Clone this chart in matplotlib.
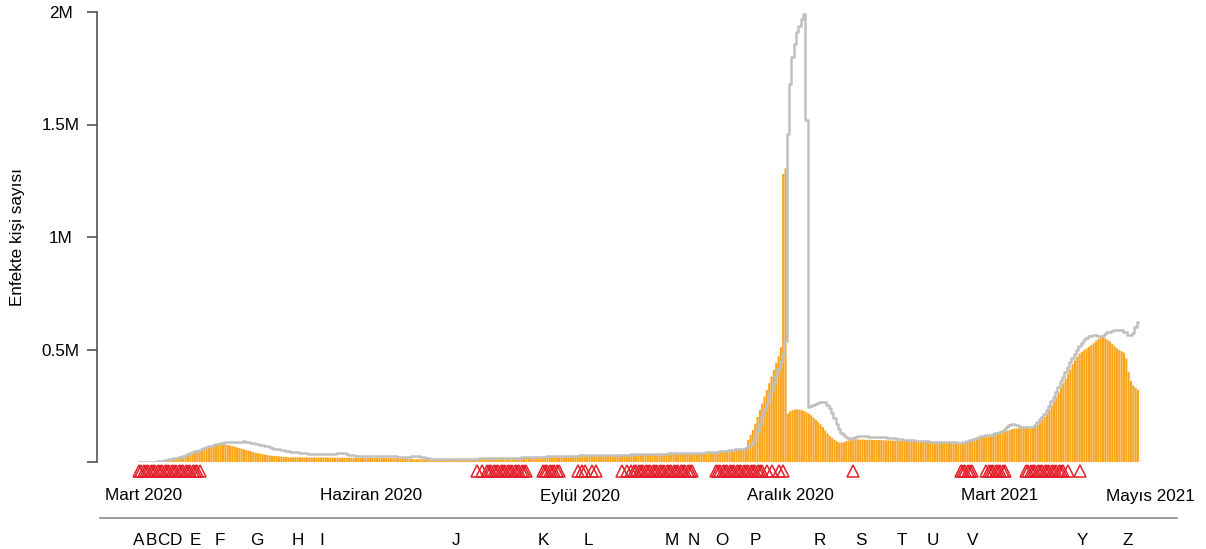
import numpy as np
import matplotlib
matplotlib.use("Agg")
import matplotlib.pyplot as plt
import matplotlib.transforms as mtransforms
from matplotlib.lines import Line2D

# infected persons per day (thousands), day 0 = first day of the series
orange = [
    0.5, 0.5, 1, 1, 1, 1.5, 2, 2, 3, 3,
    4, 6, 8, 10, 12, 14, 16, 18, 21, 24,
    28, 32, 36, 40, 44, 47, 51, 55, 59, 63,
    67, 70, 73, 75, 77, 78, 79, 78, 76, 74,
    71, 68, 65, 62, 59, 56, 53, 50, 47, 44,
    41, 39, 37, 35, 33, 31, 29, 28, 27, 26,
    25, 24, 23, 22, 21, 21, 21, 21, 21, 21,
    21, 21, 20, 20, 20, 20, 20, 20, 20, 20,
    20, 20, 20, 20, 19, 19, 19, 19, 19, 19,
    19, 19, 19, 19, 19, 19, 18, 18, 18, 18,
    18, 18, 18, 18, 18, 18, 18, 17, 17, 17,
    17, 17, 17, 16, 15, 14, 13, 13, 12, 12,
    12, 12, 12, 12, 13, 13, 13, 13, 13, 13,
    13, 13, 13, 13, 13, 13, 13, 13, 13, 14,
    14, 14, 14, 14, 14, 14, 15, 15, 15, 15,
    15, 16, 16, 16, 16, 17, 17, 17, 18, 18,
    18, 19, 19, 19, 20, 20, 21, 21, 21, 22,
    22, 22, 23, 23, 23, 24, 24, 24, 25, 25,
    25, 26, 26, 26, 26, 27, 27, 27, 27, 28,
    28, 28, 28, 28, 29, 29, 29, 29, 30, 30,
    30, 30, 31, 31, 31, 31, 31, 32, 32, 32,
    32, 33, 33, 33, 33, 34, 34, 34, 34, 35,
    35, 35, 35, 36, 36, 36, 36, 37, 37, 37,
    37, 38, 38, 38, 38, 39, 39, 39, 39, 40,
    40, 41, 41, 42, 42, 43, 43, 44, 45, 46,
    48, 49, 50, 51, 52, 54, 55, 56, 57, 59,
    61, 98, 120, 142, 170, 200, 231, 260, 290, 320,
    350, 380, 409, 440, 470, 510, 1280, 1305, 215, 225,
    230, 233, 234, 233, 230, 226, 221, 215, 208, 198,
    188, 178, 168, 155, 140, 127, 116, 107, 98, 91,
    87, 86, 88, 92, 96, 100, 102, 101, 100, 100,
    100, 99, 99, 99, 98, 98, 98, 97, 97, 97,
    96, 96, 96, 95, 95, 95, 94, 94, 94, 93,
    93, 93, 92, 92, 92, 91, 91, 91, 90, 90,
    90, 89, 89, 88, 88, 87, 87, 86, 86, 86,
    86, 86, 86, 87, 88, 93, 98, 102, 106, 110,
    112, 112, 112, 112, 113, 116, 119, 122, 125, 128,
    132, 135, 138, 142, 145, 148, 150, 150, 150, 150,
    150, 150, 150, 152, 158, 165, 175, 188, 200, 213,
    230, 250, 268, 288, 308, 330, 350, 370, 392, 412,
    435, 452, 468, 482, 490, 498, 505, 512, 520, 528,
    537, 546, 552, 555, 550, 542, 535, 525, 515, 505,
    498, 492, 486, 460, 400, 360, 340, 330, 320,
]

gray = [
    1, 1, 1, 1, 1, 1.5, 2, 2, 3, 4,
    6, 8, 10, 12, 14, 17, 19, 21, 24, 27,
    31, 35, 39, 43, 47, 50, 54, 58, 62, 66,
    70, 73, 76, 79, 81, 83, 85, 87, 89, 90,
    90, 88, 87, 88, 91, 92, 91, 89, 86, 83,
    80, 78, 76, 75, 72, 69, 66, 63, 60, 58,
    56, 54, 52, 50, 48, 46, 45, 44, 43, 42,
    40, 39, 38, 37, 36, 36, 35, 35, 34, 34,
    34, 34, 34, 35, 37, 38, 39, 39, 38, 35,
    32, 30, 29, 28, 28, 28, 28, 28, 27, 27,
    27, 27, 26, 26, 26, 26, 25, 25, 25, 25,
    25, 24, 24, 24, 24, 24, 24, 25, 25, 25,
    25, 24, 23, 20, 16, 14, 14, 14, 14, 14,
    14, 14, 14, 14, 14, 14, 14, 14, 14, 15,
    15, 15, 15, 15, 15, 15, 16, 16, 16, 16,
    16, 17, 17, 17, 17, 18, 18, 18, 19, 19,
    19, 20, 20, 20, 21, 21, 22, 22, 22, 23,
    23, 23, 24, 24, 24, 25, 25, 25, 26, 26,
    26, 27, 27, 27, 27, 28, 28, 28, 28, 29,
    29, 29, 29, 29, 30, 30, 30, 30, 31, 31,
    31, 31, 32, 32, 32, 32, 32, 33, 33, 33,
    33, 34, 34, 34, 34, 35, 35, 35, 35, 36,
    36, 36, 36, 37, 37, 37, 37, 38, 38, 38,
    38, 39, 39, 39, 39, 40, 40, 40, 40, 41,
    41, 42, 42, 43, 43, 44, 44, 45, 46, 47,
    49, 50, 51, 52, 53, 55, 56, 57, 58, 60,
    62, 66, 75, 90, 110, 140, 170, 200, 230, 262,
    292, 322, 352, 382, 412, 445, 480, 540, 1460, 1680,
    1800, 1860, 1910, 1940, 1970, 1990, 1520, 244, 250, 254,
    258, 262, 265, 267, 266, 255, 238, 218, 195, 170,
    145, 130, 120, 112, 107, 104, 106, 110, 114, 116,
    116, 115, 114, 113, 112, 112, 112, 111, 111, 110,
    109, 108, 107, 106, 105, 104, 102, 101, 100, 99,
    98, 97, 96, 95, 94, 93, 93, 92, 92, 91,
    91, 90, 90, 89, 89, 88, 88, 87, 87, 87,
    87, 86, 86, 87, 88, 92, 96, 100, 104, 108,
    112, 114, 116, 118, 120, 122, 124, 127, 130, 135,
    140, 148, 156, 163, 168, 169, 166, 160, 157, 156,
    156, 156, 156, 157, 165, 178, 190, 201, 215, 232,
    250, 270, 290, 312, 335, 358, 380, 402, 424, 445,
    462, 480, 498, 515, 530, 542, 550, 558, 562, 564,
    563, 561, 560, 562, 570, 576, 579, 582, 585, 587,
    587, 585, 580, 579, 566, 564, 572, 600, 623,
]

# days with a measure (red triangles), as (first, last) runs
tri_runs = [(0, 26), (145, 145), (147, 147), (149, 166), (173, 180),
            (188, 188), (190, 191), (194, 194), (196, 196),
            (207, 207), (209, 209), (211, 237), (247, 267),
            (269, 269), (271, 271), (274, 274), (276, 276), (306, 306),
            (352, 357), (363, 371), (380, 396), (398, 398), (403, 403)]

month_labels = ["Mart 2020", "Haziran 2020", "Eylül 2020", "Aralık 2020", "Mart 2021", "Mayıs 2021"]
month_pos = [1.8, 99.4, 189, 279.1, 368.7, 433.2]

event_labels = ["A", "B", "C", "D", "E", "F", "G", "H", "I", "J", "K", "L",
                "M", "N", "O", "P", "R", "S", "T", "U", "V", "Y", "Z"]
event_pos = [0.0, 5.1, 10.5, 15.9, 24.0, 34.7, 50.6, 68.1, 78.4, 135.8, 173.1, 192.4,
             228.4, 237.8, 249.8, 263.9, 291.8, 309.3, 326.8, 340.2, 357.3, 404.0, 423.7]

yticks = [0, 0.5e6, 1e6, 1.5e6, 2e6]
ytick_labels = ["", "0.5M", "1M", "1.5M", "2M"]

plt.rcParams["font.family"] = ["Liberation Sans", "DejaVu Sans"]
fs = 12.3

days = np.arange(len(orange))
tri_days = [d for a, b in tri_runs for d in range(a, b + 1)]

W, H = 1206, 549
fig = plt.figure(figsize=(W / 100, H / 100), dpi=100)
ax = fig.add_axes([97 / W, 87 / H, (1180 - 97) / W, 450 / H])

ax.bar(days, np.array(orange) * 1000, width=0.9, color="#F9A51B", linewidth=0, snap=False, zorder=2)
ax.step(days, np.array(gray) * 1000, where="mid", color="#C0C0C0", lw=1.8, zorder=3)

ax.plot(tri_days, [-40000] * len(tri_days), linestyle="none", marker="^", ms=9,
        mfc="none", mec="#E3202B", mew=1.1, clip_on=False, zorder=4)

ax.set_xlim(-18, 446)
ax.set_ylim(0, 2e6)
for s in ["top", "right", "bottom"]:
    ax.spines[s].set_visible(False)
ax.spines["left"].set_color("#444444")
ax.spines["left"].set_linewidth(1.1)
ax.set_xticks([])
ax.set_yticks(yticks)
ax.set_yticklabels(ytick_labels, fontsize=fs)
ax.tick_params(axis="y", length=7.2, width=1.1, color="#444444", pad=19)
for lbl in ax.get_yticklabels():
    lbl.set_horizontalalignment("center")

fig.text(18 / W, 1 - 237 / H, "Enfekte kişi sayısı", rotation=90, ha="center", va="center", fontsize=fs)

trans = mtransforms.blended_transform_factory(ax.transData, fig.transFigure)
for lab, p in zip(month_labels, month_pos):
    ax.text(p, 1 - 500.5 / H, lab, transform=trans, ha="center", va="baseline", fontsize=fs, clip_on=False)
for lab, p in zip(event_labels, event_pos):
    ax.text(p, 1 - 545 / H, lab, transform=trans, ha="center", va="baseline", fontsize=fs, clip_on=False)

fig.add_artist(Line2D([100 / W, 1177 / W], [1 - 518 / H] * 2, color="#808080", lw=1.1))

plt.savefig("out.png", dpi=100)
